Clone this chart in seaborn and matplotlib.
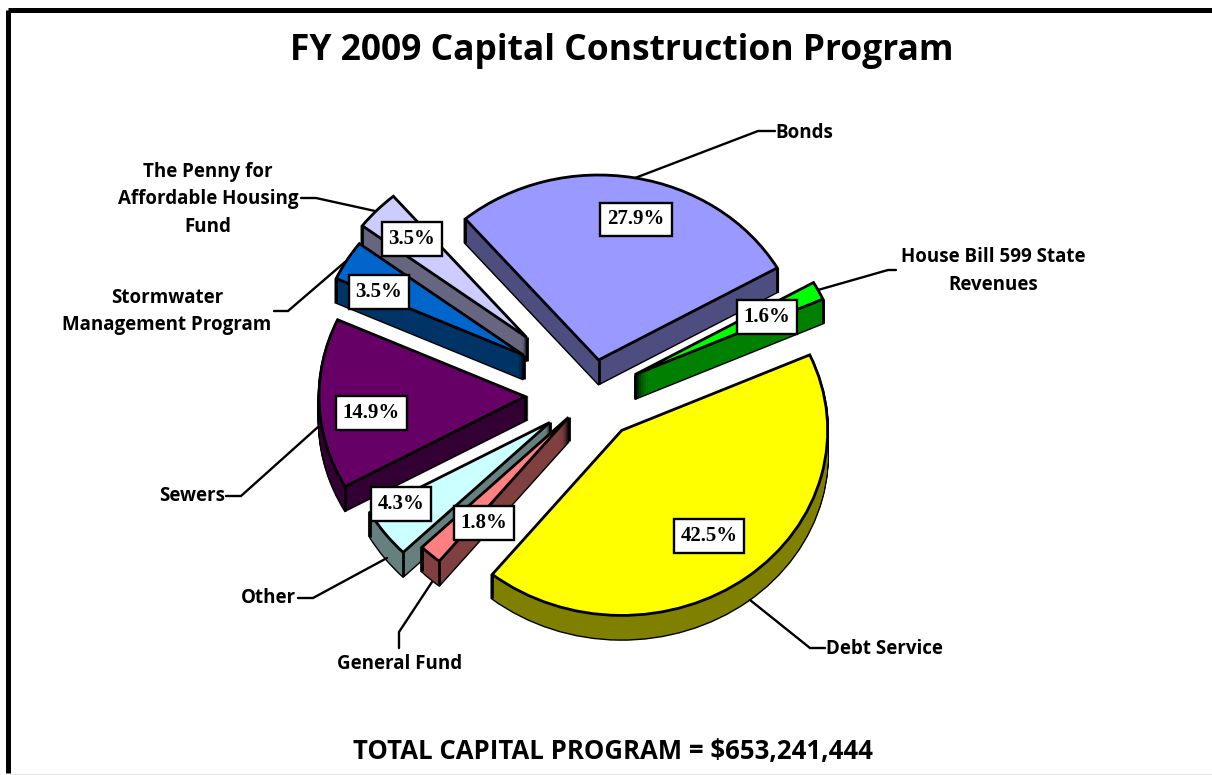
import math
import matplotlib
matplotlib.use("Agg")
import matplotlib.pyplot as plt
import seaborn as sns

W, H = 1212, 775
categories = ["Bonds", "House Bill 599 State\nRevenues", "Debt Service", "General Fund", "Other",
              "Sewers", "Stormwater\nManagement Program", "The Penny for\nAffordable Housing\nFund"]
shares = [27.9, 1.6, 42.5, 1.8, 4.3, 14.9, 3.5, 3.5]
title = "FY 2009 Capital Construction Program"
footer = "TOTAL CAPITAL PROGRAM = $653,241,444"

top_colors = ["#9999FF", "#00FF00", "#FFFF00", "#FF8080", "#CCFFFF", "#660066", "#0066CC", "#CCCCFF"]
side_colors = ["#4D4D80", "#008000", "#808000", "#804040", "#668080", "#330033", "#003366", "#666680"]
explode = [0.214, 0.266, 0.228, 0.155, 0.238, 0.33, 0.42, 0.477]

# layout, in reference pixels
cx, cy, rx, ry, depth = 591, 399, 206, 185, 24
start_angle = 130.3
nudges = [(0, 0), (-5, -2), (2, -2), (-1, -3), (-2, -3), (2, -5), (7, -4), (7, -1)]
stack_rank = [2, 3, 7, 6, 5, 4, 1, 0]
box_xy = [(636, 219.5), (767, 317), (709, 536), (484, 523), (401, 504), (371, 413), (379, 292), (412, 239)]
leaders = [[(635, 178), (758, 131), (775, 131)], [(818, 290), (888, 270), (896, 270)],
           [(750, 600), (810, 648), (825, 648)], [(432, 582), (399, 632), (399, 648)],
           [(387, 558), (313, 598), (298, 598)], [(318, 427), (241, 496), (226, 496)],
           [(345, 262), (288, 311), (274, 311)], [(375, 211), (316, 198), (301, 198)]]
label_xy = [(775, 133, "left"), (993, 271, "center"), (826, 649, "left"), (400, 664, "center"),
            (296, 598, "right"), (225, 496, "right"), (167, 311.5, "center"), (208, 199, "center")]

sns.set_theme(style="white")
plt.rcParams["font.family"] = ["Open Sans", "DejaVu Sans"]

fig = plt.figure(figsize=(W / 100, H / 100), dpi=100, facecolor="white")
ax = fig.add_axes([0, 0, 1, 1])
LW = 2.0


def pie_at(d, colors, edge, lw, sub):
    wedges, _ = ax.pie(shares, explode=explode, colors=colors, startangle=start_angle, counterclock=False,
                       center=(0, 0), radius=1,
                       wedgeprops=dict(edgecolor=edge, linewidth=lw, joinstyle="miter"))
    for w, (nx, ny), rank in zip(wedges, nudges, stack_rank):
        x0, y0 = w.center
        w.set_center((x0 + nx / rx, y0 - (ny + d) / ry))
        w.set_zorder(rank * 10 + sub)
    return wedges


# extruded side: black silhouette first, then the dark fill
for d in range(depth, 0, -1):
    pie_at(d, ["black"] * len(shares), "black", LW, 1)
for d in range(depth, 0, -1):
    pie_at(d, side_colors, "none", 0, 2)
# top faces
top = pie_at(0, top_colors, "black", LW, 4)


def hides_edge(w, px, py):
    """True if the point just under a corner still lies on the wedge's own top face."""
    x0, y0 = w.center
    dx, dy = px - x0, py - 0.02 - y0
    if math.hypot(dx, dy) >= w.r:
        return False
    a = math.degrees(math.atan2(dy, dx))
    return any(w.theta1 <= a + k <= w.theta2 for k in (-360, 0, 360))


# vertical edges at the wedge corners
for w, rank in zip(top, stack_rank):
    x0, y0 = w.center
    corners = [(x0, y0)] + [(x0 + w.r * math.cos(math.radians(t)), y0 + w.r * math.sin(math.radians(t)))
                            for t in (w.theta1, w.theta2)]
    for px, py in corners:
        if not hides_edge(w, px, py):
            ax.plot([px, px], [py, py - depth / ry], color="black", lw=LW, zorder=rank * 10 + 3,
                    solid_capstyle="butt")

ax.set_aspect("auto")
ax.set_xlim(-cx / rx, (W - cx) / rx)
ax.set_ylim((cy - H) / ry, cy / ry)
ax.axis("off")

# overlay in pixel coordinates: frame, leaders, labels
ov = fig.add_axes([0, 0, 1, 1], facecolor="none")
ov.set_xlim(0, W)
ov.set_ylim(H, 0)
ov.axis("off")
ov.plot([7.5, 7.5], [H - 2, 9.5], color="black", lw=3.6, solid_joinstyle="round", solid_capstyle="butt")
ov.plot([7.5, W], [9.5, 9.5], color="black", lw=3.6, solid_capstyle="butt")
ov.plot([10, W], [H - 1.5, H - 1.5], color="#e6e6e6", lw=0.8)

ov.text(622, 51, title, fontsize=25.5, fontweight="bold", ha="center", va="center", color="black")
ov.text(612.5, 752, footer, fontsize=18.5, fontweight="bold", ha="center", va="center", color="black")

for pts in leaders:
    ov.plot([p[0] for p in pts], [p[1] for p in pts], color="black", lw=1.7, solid_joinstyle="miter")
for name, (x, y, ha) in zip(categories, label_xy):
    ov.text(x, y, name, fontsize=13.5, fontweight="bold", ha=ha, va="center", multialignment="center",
            linespacing=1.5, color="black")
for v, (x, y) in zip(shares, box_xy):
    ov.text(x, y, f"{v:.1f}%", fontsize=15, fontweight="bold", family="Liberation Serif", ha="center",
            va="center", color="black", zorder=6,
            bbox=dict(boxstyle="square,pad=0.33", facecolor="white", edgecolor="black", linewidth=1.7))

fig.savefig("out.png", dpi=100, facecolor="white")
